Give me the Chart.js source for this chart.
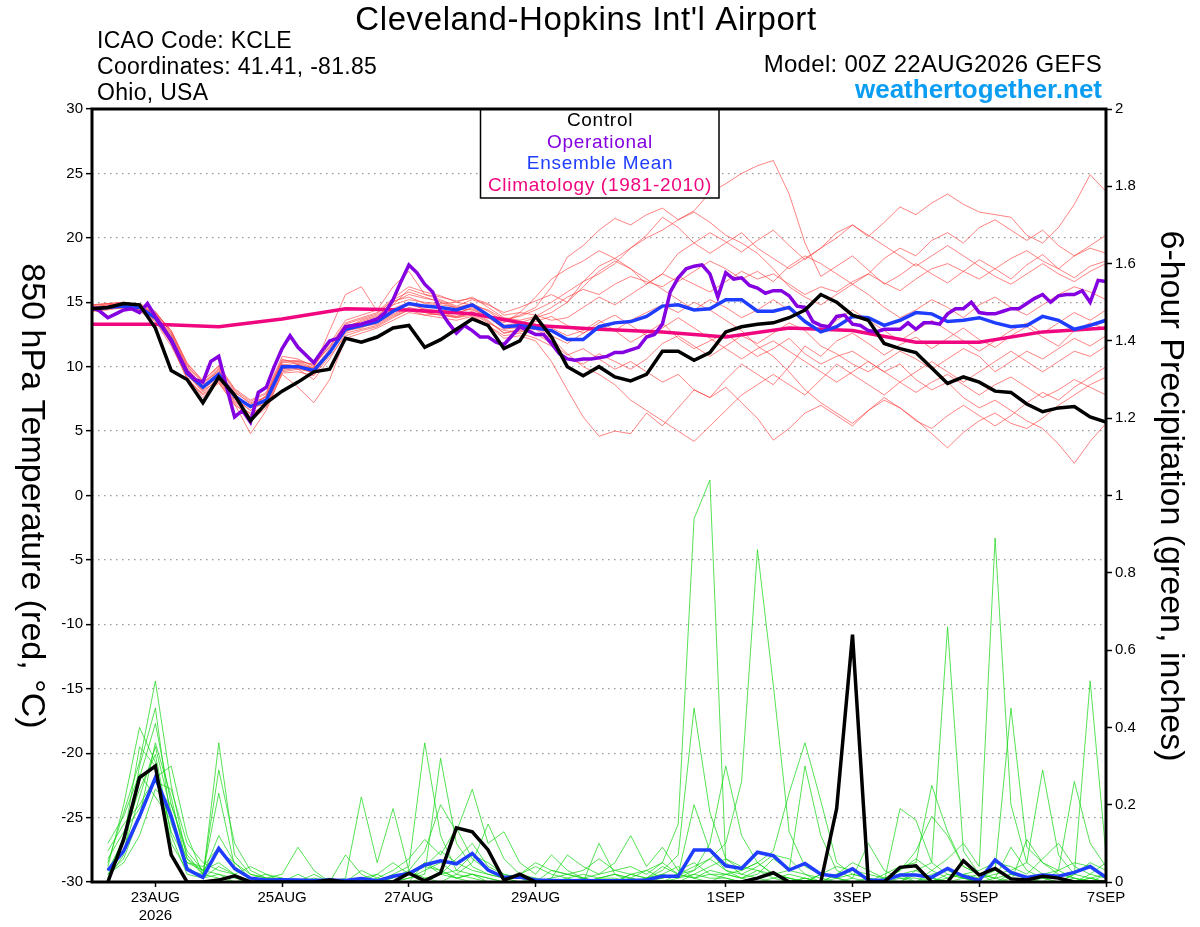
<!DOCTYPE html>
<html>
<head>
<meta charset="utf-8">
<title>Cleveland-Hopkins Int'l Airport - GEFS</title>
<script src="https://cdn.jsdelivr.net/npm/chart.js@4.4.1/dist/chart.umd.min.js"></script>
<style>
  html, body { margin: 0; padding: 0; background: #fff; }
  #wrap { width: 1200px; height: 927px; }
</style>
</head>
<body>
<div id="wrap"><canvas id="meteogram" width="1200" height="927"></canvas></div>
<script>
const FONT = "'Liberation Sans', Arial, Helvetica, sans-serif";

// x axis is forecast hour from 00Z 22AUG2026
const tickHours = [24, 72, 120, 168, 240, 288, 336, 384];
const tickLabels = [['23AUG', '2026'], '25AUG', '27AUG', '29AUG', '1SEP', '3SEP', '5SEP', '7SEP'];

// 850 hPa temperature, every 6 h from hour 0
const controlTemp = [14.5,14.6,14.9,14.8,13.0,9.7,9.0,7.2,9.2,7.8,
  5.8,7.2,8.1,8.8,9.6,9.8,12.2,11.9,12.3,13.0,
  13.2,11.5,12.1,12.9,13.7,13.2,11.4,12.0,13.9,12.3,
  10.0,9.3,10.0,9.2,8.9,9.4,11.2,11.2,10.5,11.1,
  12.7,13.1,13.3,13.4,13.8,14.4,15.6,15.0,14.0,13.6,
  11.8,11.4,11.1,9.9,8.7,9.2,8.8,8.1,8.0,7.1,
  6.5,6.8,6.9,6.1,5.7];
const meanTemp = [14.5,14.6,14.7,14.6,13.8,12.1,9.5,8.4,9.4,7.7,
  6.9,7.4,10.0,10.0,9.7,11.1,12.9,13.2,13.5,14.3,
  14.9,14.7,14.6,14.4,14.8,14.0,13.1,13.2,13.0,12.8,
  12.1,12.1,13.1,13.4,13.5,13.9,14.7,14.8,14.4,14.5,
  15.2,15.2,14.3,14.3,14.6,13.5,12.7,13.1,13.9,13.8,
  13.2,13.6,14.2,14.1,13.5,13.6,13.8,13.4,13.1,13.2,
  13.9,13.6,12.9,13.2,13.6];
// operational run, every 3 h from hour 0
const operTemp = [14.6,14.3,13.8,14.1,14.4,14.5,14.2,14.9,13.9,13.0,
  12.0,10.8,9.6,9.0,8.8,10.4,10.8,8.4,6.1,6.6,
  5.7,8.0,8.4,10.0,11.4,12.4,11.5,10.9,10.3,11.2,
  12.0,12.2,13.1,13.2,13.3,13.5,13.7,14.2,15.2,16.6,
  17.9,17.3,16.4,15.8,14.3,13.4,12.6,13.2,12.8,12.3,
  12.3,11.9,11.7,12.4,13.1,12.8,12.5,12.5,11.8,11.0,
  10.6,10.5,10.6,10.6,10.7,10.8,11.1,11.1,11.3,11.5,
  12.3,12.5,13.3,15.8,16.9,17.6,17.8,17.9,17.2,15.4,
  17.3,16.8,16.9,16.3,16.1,15.7,15.9,15.9,15.5,14.7,
  14.6,13.5,13.2,13.1,13.9,14.0,13.3,13.2,12.8,12.7,
  12.9,12.9,12.9,13.4,12.9,13.4,13.4,13.3,14.1,14.5,
  14.5,15.0,14.2,14.1,14.1,14.3,14.5,14.5,14.9,15.3,
  15.6,15.0,15.5,15.6,15.6,15.9,15.0,16.7,16.6];
// climatology (1981-2010), daily at 00Z
const climTemp = [13.3,13.3,13.1,13.7,14.5,14.4,14.1,13.2,12.9,12.7,12.3,13.0,12.8,11.9,11.9,12.7,13.0];

// ensemble members, temperature every 6 h from hour 0
const tempMember01 = [14.8,14.9,15.0,14.7,14.0,12.5,9.8,8.6,9.8,7.6,6.6,7.8,
  10.4,10.5,10.1,11.6,13.4,13.8,14.2,15.1,15.4,14.9,14.8,14.6,
  14.9,14.3,13.5,14.0,14.6,16.2,18.5,19.4,20.6,21.5,21.0,21.8,
  22.3,21.4,22.1,23.5,24.2,25.0,25.6,26.0,23.4,19.6,17.0,17.8,
  18.6,17.5,16.4,17.1,18.0,17.2,16.5,17.4,18.3,17.6,16.8,17.9,18.7,17.6,16.9,17.8,18.2];
const tempMember02 = [14.6,14.8,14.9,14.6,14.2,12.8,10.2,8.9,10.0,8.2,7.3,7.9,
  10.6,10.2,9.4,11.0,13.0,13.6,14.0,14.8,16.0,15.6,15.2,14.7,
  15.2,14.8,14.2,14.6,15.1,15.6,15.0,16.2,17.4,18.2,17.6,16.4,
  17.2,18.8,19.6,20.4,19.7,18.9,19.8,20.6,19.4,18.3,19.2,20.4,
  21.0,20.1,21.2,22.4,21.8,22.7,23.4,22.6,22.0,21.8,21.6,20.2,19.6,20.8,22.6,24.9,23.6];
const tempMember03 = [14.3,14.5,14.6,14.4,13.6,11.8,9.0,7.9,8.8,7.0,6.4,6.9,
  9.6,9.8,9.0,10.6,12.6,12.9,13.2,13.9,14.4,14.0,14.1,13.8,
  14.0,13.2,12.2,12.4,12.0,10.4,8.2,6.1,4.6,5.0,4.8,6.4,
  5.4,6.8,8.2,7.6,9.0,10.2,9.4,8.6,10.0,11.6,10.8,12.0,
  12.6,11.8,10.9,11.7,12.3,11.4,12.2,13.0,12.1,11.5,12.4,13.1,12.3,11.6,12.8,13.4,12.9];
const tempMember04 = [14.5,14.7,14.8,14.5,13.7,12.0,9.4,8.0,9.1,7.4,6.1,7.2,
  9.9,10.1,9.9,11.3,12.8,13.0,13.6,14.5,15.0,14.4,14.2,13.9,
  14.3,13.6,12.6,12.9,13.3,13.0,12.4,12.8,13.6,12.8,11.9,12.6,
  13.4,12.2,11.4,12.0,12.6,11.6,10.8,11.4,12.2,11.0,10.2,10.8,
  11.2,10.4,9.6,10.2,9.0,8.2,8.8,7.6,6.8,7.4,6.6,5.8,5.2,4.0,2.5,4.2,5.6];
const tempMember05 = [14.7,14.6,14.8,14.9,14.3,12.6,10.0,8.8,9.6,8.0,7.2,7.6,
  10.2,9.8,9.6,11.4,13.2,13.4,13.8,14.8,15.2,15.0,14.9,15.0,
  15.4,14.6,13.8,13.6,13.9,14.6,15.4,16.0,15.6,16.4,17.0,16.6,
  16.2,17.0,16.4,15.8,16.6,17.4,16.8,17.2,16.4,15.6,16.2,15.8,
  16.6,17.2,16.5,15.9,16.8,17.6,18.0,17.4,16.8,17.6,18.4,19.0,18.2,17.6,18.6,19.2,18.8];
const tempMember06 = [14.4,14.5,14.7,14.5,13.9,12.2,9.6,8.3,9.3,7.8,7.0,7.0,
  9.8,10.0,9.6,11.0,12.9,13.1,13.4,14.1,14.6,14.3,14.4,14.2,
  14.5,13.8,13.0,13.0,12.6,11.8,10.9,11.4,10.6,9.8,10.4,9.6,
  8.8,9.4,8.2,7.6,8.4,7.2,6.0,4.3,5.2,6.4,7.0,6.2,
  5.4,6.6,7.4,6.8,5.9,4.8,3.7,4.9,5.8,6.4,5.6,5.2,6.0,7.0,7.8,8.6,9.2];
const tempMember07 = [14.6,14.7,14.6,14.8,14.1,12.4,9.9,8.5,9.5,7.9,6.8,7.5,
  10.1,10.3,9.8,11.2,13.1,13.5,13.9,15.0,15.6,15.3,15.1,14.6,
  14.7,14.0,13.2,13.4,13.8,14.2,15.0,16.6,17.8,18.4,19.2,20.0,
  20.6,21.4,22.0,21.2,20.2,19.6,18.8,17.6,16.2,15.4,14.8,15.6,
  16.4,15.6,14.6,13.8,14.4,15.2,14.6,13.8,14.8,15.4,14.6,14.0,14.8,15.6,16.2,15.8,15.2];
const tempMember08 = [14.4,14.6,14.5,14.3,13.5,11.6,9.2,7.6,8.9,7.2,5.8,6.8,
  9.4,8.4,7.2,9.0,12.2,12.6,13.0,13.6,14.2,14.0,13.8,13.6,
  13.9,13.2,12.4,12.6,12.2,11.6,10.6,10.2,11.0,10.4,9.8,10.6,
  11.8,12.4,11.6,10.8,11.6,12.4,11.8,12.6,13.4,12.8,11.6,11.0,
  10.2,9.6,10.4,11.2,10.6,9.8,10.6,11.4,10.8,9.6,10.4,11.2,10.6,11.4,12.2,11.6,12.4];
const tempMember09 = [14.7,14.9,15.0,14.8,14.2,12.8,10.3,8.9,10.1,8.3,7.4,8.0,
  10.8,10.6,10.0,11.8,13.6,14.0,14.4,16.2,17.4,15.6,15.4,15.1,
  15.3,14.9,14.0,14.2,14.0,13.6,13.8,14.6,15.4,14.8,15.6,16.4,
  17.2,16.6,17.4,18.2,17.6,16.8,17.4,16.6,17.8,18.6,18.0,17.2,
  16.4,17.2,18.4,19.2,18.6,19.8,20.4,19.6,20.8,21.4,20.6,19.8,20.6,19.4,18.6,19.4,20.2];
const tempMember10 = [14.5,14.6,14.7,14.6,13.9,12.0,9.3,8.2,9.2,7.5,6.6,7.3,
  9.7,9.9,9.5,11.1,12.7,13.2,13.5,14.3,14.8,14.5,14.3,14.1,
  14.6,13.9,12.9,13.1,13.5,13.9,13.2,12.6,13.4,14.0,13.2,12.4,
  13.0,13.8,13.0,12.2,11.4,10.6,11.4,12.0,11.2,10.4,9.6,8.8,
  9.6,10.4,9.6,8.8,8.0,8.8,9.4,8.6,7.8,8.6,9.2,8.4,7.6,8.2,9.0,8.4,7.8];
const tempMember11 = [14.6,14.8,14.9,14.7,14.0,12.3,9.7,8.4,9.7,7.7,6.9,7.7,
  10.3,10.4,10.2,11.5,13.3,13.7,14.1,15.2,15.8,15.4,15.0,14.5,
  14.4,13.9,13.4,14.2,15.4,16.8,17.6,18.2,19.0,18.4,17.6,16.8,
  16.0,15.2,14.4,15.2,14.6,13.8,14.4,15.2,14.4,13.6,12.8,13.6,
  14.4,13.6,12.8,12.0,12.8,13.6,12.8,12.0,11.2,12.0,12.8,13.4,12.6,13.4,14.2,13.6,14.4];
const tempMember12 = [14.3,14.4,14.6,14.5,13.8,12.2,9.5,8.1,9.0,7.3,6.3,7.1,
  9.8,10.2,9.7,11.0,12.8,13.1,13.3,14.0,14.5,14.2,14.0,13.8,
  14.2,13.5,12.6,12.8,13.0,12.4,11.8,12.6,13.2,12.8,13.6,14.2,
  14.8,14.2,15.0,14.4,13.6,12.8,11.6,10.8,9.6,8.2,7.2,6.4,
  5.6,6.6,7.6,6.8,5.8,5.2,6.2,7.0,6.2,5.4,6.2,7.2,8.0,7.4,8.4,9.2,10.0];
const tempMember13 = [14.8,14.9,14.8,14.6,14.1,12.7,10.1,8.7,9.9,8.1,7.1,7.7,
  10.5,10.4,9.9,12.8,15.6,16.2,14.3,15.3,16.2,15.8,15.5,15.0,
  14.8,14.4,13.7,13.9,14.4,15.0,15.8,16.6,17.2,18.0,19.2,20.2,
  21.6,20.8,19.6,18.8,19.6,20.4,19.2,18.4,17.6,18.4,19.2,20.0,
  21.0,20.2,19.4,18.6,17.8,18.6,19.4,18.6,17.8,17.0,16.4,17.2,18.0,17.2,16.6,17.4,18.0];
const tempMember14 = [14.5,14.7,14.6,14.4,13.6,11.9,9.1,7.8,8.7,7.1,4.8,6.6,
  9.5,9.6,9.3,10.8,12.4,12.8,13.1,13.8,14.4,14.2,14.0,13.9,
  14.1,13.4,12.8,12.7,12.9,12.2,11.0,10.0,9.4,8.6,7.4,6.6,
  5.8,5.0,4.2,5.4,6.6,7.8,8.6,9.4,8.6,7.8,9.0,10.2,
  9.4,8.6,7.8,8.8,9.6,10.4,9.6,8.8,9.6,10.4,11.2,10.4,9.6,10.4,11.2,10.8,11.6];

// 6-hour precipitation (inches), every 6 h from hour 6
const controlPrecip = [0,0.11,0.27,0.30,0.07,0,0,0.005,
  0.016,0,0,0,0,0,0.005,0,
  0,0,0,0.023,0.003,0.023,0.14,0.13,
  0.083,0.005,0.02,0,0,0,0,0,
  0,0,0,0,0,0,0,0,
  0,0.01,0.024,0,0,0,0.19,0.64,
  0,0,0.038,0.042,0,0,0.055,0.018,
  0.035,0.008,0.005,0.015,0.01,0,0,0];
const meanPrecip = [0.03,0.08,0.17,0.27,0.17,0.033,0.012,0.087,
  0.035,0.01,0.005,0.006,0.005,0.004,0.005,0.004,
  0.009,0.003,0.015,0.022,0.044,0.055,0.047,0.074,
  0.031,0.012,0.013,0.005,0.004,0.003,0.004,0.003,
  0.003,0.004,0.005,0.015,0.015,0.083,0.083,0.042,
  0.035,0.077,0.068,0.031,0.048,0.02,0.015,0.034,
  0.005,0.004,0.018,0.018,0.012,0.035,0.015,0.004,
  0.057,0.025,0.012,0.018,0.015,0.025,0.04,0.012];
const precipMember01 = [0.02,0.08,0.22,0.35,0.18,0.03,0.01,0.04, 0.02,0,0,0,0,0.01,0,0,
  0,0,0,0.02,0.05,0.03,0.01,0.02, 0.01,0,0,0,0,0,0.01,0.02,
  0.03,0.04,0.02,0.05,0.15,0.94,1.04,0.05, 0.02,0.01,0,0,0.01,0,0,0,
  0,0.01,0.02,0,0.01,0,0,0, 0,0,0,0.01,0,0,0.02,0.01];
const precipMember02 = [0.05,0.18,0.31,0.52,0.25,0.06,0.02,0.12, 0.05,0.01,0,0,0.02,0,0,0,
  0.03,0.01,0,0,0,0.02,0.06,0.1, 0.04,0.02,0.01,0,0,0,0,0,
  0,0.02,0.01,0.03,0.07,0.45,0.18,0.06, 0.03,0.05,0.02,0.01,0,0.02,0.01,0,
  0.01,0,0,0.03,0.05,0.66,0.08,0.02, 0.01,0,0,0,0.03,0.05,0.04,0.01];
const precipMember03 = [0.01,0.12,0.24,0.33,0.12,0.02,0.01,0.36, 0.07,0.02,0.01,0,0,0,0.01,0,
  0,0,0.02,0.04,0.36,0.12,0.03,0.02, 0,0,0,0.01,0,0,0,0.1,
  0.02,0,0,0.01,0.02,0.2,0.08,0.03, 0.01,0.02,0.06,0.03,0.02,0,0,0.01,
  0.1,0.03,0.01,0.01,0,0.02,0.01,0, 0.01,0.02,0.01,0,0,0.02,0.01,0];
const precipMember04 = [0.03,0.1,0.27,0.41,0.2,0.08,0.03,0.05, 0.02,0,0.01,0.02,0.09,0.03,0,0,
  0,0,0,0.01,0.02,0.32,0.1,0.04, 0.02,0.01,0,0,0.03,0.02,0.01,0,
  0,0,0.01,0.02,0.01,0.03,0.06,0.1, 0.26,0.86,0.51,0.13,0.04,0.02,0.01,0,
  0,0,0.02,0.03,0.01,0,0,0.01, 0.03,0.01,0,0,0,0.01,0,0];
const precipMember05 = [0.08,0.15,0.2,0.27,0.3,0.12,0.02,0.29, 0.1,0.03,0.01,0,0,0,0,0.01,
  0.22,0.05,0.19,0.03,0.01,0,0.02,0.05, 0.15,0.06,0.02,0.01,0,0,0,0.01,
  0.02,0.01,0,0,0.02,0.03,0.1,0.3, 0.12,0.05,0.02,0.01,0,0,0.02,0.03,
  0.01,0,0.19,0.16,0.05,0.02,0.01,0, 0,0.02,0.01,0.02,0.03,0.01,0,0.02];
const precipMember06 = [0.02,0.06,0.17,0.36,0.22,0.04,0.01,0.02, 0,0,0,0,0,0,0,0.07,
  0.02,0,0.01,0.03,0.08,0.2,0.13,0.24, 0.1,0.13,0.05,0.02,0.07,0.03,0.01,0,
  0,0,0.01,0.02,0.04,0.01,0.02,0.02, 0.03,0.05,0.08,0.23,0.36,0.21,0.05,0.02,
  0.01,0,0,0.02,0.01,0,0.01,0.02, 0,0,0.11,0.05,0.02,0.01,0,0];
const precipMember07 = [0.04,0.2,0.4,0.31,0.1,0.03,0.02,0.23, 0.04,0.01,0,0,0,0,0,0,
  0,0.02,0.05,0.02,0.04,0.08,0.05,0.03, 0.02,0.01,0,0,0.01,0.07,0.04,0.02,
  0.05,0.12,0.04,0.09,0.03,0.05,0.02,0.01, 0,0.01,0.02,0.03,0.3,0.12,0.03,0.01,
  0,0.02,0.04,0.05,0.25,0.13,0.04,0.02, 0.01,0.09,0.03,0.01,0,0.02,0.05,0.03];
const precipMember08 = [0.01,0.07,0.3,0.45,0.15,0.05,0.04,0.09, 0.03,0.01,0.02,0.01,0,0,0,0,
  0,0.01,0.03,0.06,0.11,0.07,0.14,0.06, 0.03,0.01,0.02,0.04,0.02,0.01,0,0,
  0,0.01,0,0,0,0.02,0.04,0.06, 0.04,0.03,0.01,0,0.01,0,0.02,0.05,
  0.03,0.01,0,0,0.03,0.06,0.1,0.04, 0.89,0.2,0.05,0.02,0.01,0,0.01,0];
const precipMember09 = [0.06,0.13,0.19,0.26,0.24,0.1,0.05,0.03, 0.02,0.04,0.02,0,0,0,0,0,
  0,0,0,0.01,0.03,0.05,0.02,0.01, 0,0,0.02,0.05,0.03,0.02,0.03,0.06,
  0.03,0.02,0.01,0.04,0.02,0.01,0.03,0.02, 0.01,0,0,0,0,0.02,0.04,0.03,
  0.02,0.01,0.03,0.08,0.17,0.12,0.04,0.02, 0.03,0.45,0.09,0.05,0.03,0.26,0.1,0.04];
const precipMember10 = [0.03,0.11,0.35,0.3,0.13,0.05,0.03,0.02, 0.01,0,0,0,0,0.02,0,0,
  0,0,0,0.02,0.04,0.03,0.01,0, 0,0,0,0,0,0,0,0.01,
  0.02,0.01,0.03,0.05,0.02,0.01,0,0.02, 0.01,0.03,0.02,0.01,0,0,0.01,0.02,
  0.01,0,0,0,0,0.01,0.02,0.01, 0.02,0.03,0.05,0.29,0.07,0.02,0.52,0.07];
const precipMember11 = [0.1,0.17,0.28,0.22,0.16,0.06,0.03,0.08, 0.05,0.02,0.01,0.01,0,0,0,0,
  0.01,0.02,0,0,0.05,0.02,0.03,0.07, 0.05,0.02,0.01,0,0.01,0.02,0.01,0,
  0,0.02,0.03,0.01,0.02,0.04,0.06,0.03, 0.02,0.04,0.07,0.06,0.02,0.01,0,0,
  0,0,0.03,0.06,0.03,0.01,0.02,0.03, 0.05,0.04,0.02,0.06,0.1,0.04,0.02,0.05];
const precipMember12 = [0.02,0.05,0.12,0.24,0.2,0.07,0.02,0.01, 0,0.01,0,0,0,0,0,0,
  0,0,0,0,0.01,0.02,0.01,0.02, 0.01,0,0,0,0,0.01,0.02,0.01,
  0.01,0,0,0,0.01,0.02,0.01,0.01, 0,0,0.01,0.02,0.01,0,0,0,
  0,0,0.01,0,0.02,0.03,0.01,0, 0,0.01,0,0.02,0.01,0,0.01,0.02];

const tempMembers = [tempMember01, tempMember02, tempMember03, tempMember04, tempMember05,
  tempMember06, tempMember07, tempMember08, tempMember09, tempMember10,
  tempMember11, tempMember12, tempMember13, tempMember14];
const precipMembers = [precipMember01, precipMember02, precipMember03, precipMember04,
  precipMember05, precipMember06, precipMember07, precipMember08,
  precipMember09, precipMember10, precipMember11, precipMember12];

// turn a value list into {x: hour, y: value}
function every(vals, step, start) {
  return vals.map((v, i) => ({ x: start + i * step, y: v }));
}

function line(data, color, width, axis) {
  return { data: data, borderColor: color, borderWidth: width, yAxisID: axis,
    pointRadius: 0, tension: 0, fill: false };
}

// first dataset is drawn on top
const datasets = [
  line(every(controlTemp, 6, 0), '#000000', 3.5, 'y'),
  line(every(operTemp, 3, 0), '#8400e0', 3.5, 'y'),
  line(every(meanTemp, 6, 0), '#1f3dff', 3.5, 'y'),
  line(every(climTemp, 24, 0), '#f0067f', 3.5, 'y'),
  line(every(controlPrecip, 6, 6), '#000000', 3.5, 'y2'),
  line(every(meanPrecip, 6, 6), '#1f3dff', 3.5, 'y2')
];
tempMembers.forEach(m => datasets.push(line(every(m, 6, 0), 'rgba(255,60,60,0.8)', 0.8, 'y')));
precipMembers.forEach(m => datasets.push(line(every(m, 6, 6), 'rgba(20,215,20,0.9)', 0.8, 'y2')));

const legendItems = ['Control', 'Operational', 'Ensemble Mean', 'Climatology (1981-2010)'];
const legendColors = ['#000000', '#8400e0', '#1f3dff', '#f0067f'];

const decor = {
  id: 'decor',
  afterDatasetsDraw(chart) {
    const { ctx, chartArea: a } = chart;
    ctx.save();
    // legend box
    ctx.fillStyle = '#fff';
    ctx.fillRect(480, a.top, 239, 198 - a.top);
    ctx.lineWidth = 1.5;
    ctx.strokeStyle = '#000';
    ctx.strokeRect(480.5, a.top, 238.5, 198 - a.top);
    ctx.font = '19px ' + FONT;
    ctx.letterSpacing = '0.7px';
    ctx.textAlign = 'center';
    ctx.textBaseline = 'middle';
    legendItems.forEach((t, i) => {
      ctx.fillStyle = legendColors[i];
      ctx.fillText(t, 600, 121 + i * 21.5);
    });
    ctx.letterSpacing = '0px';
    // plot frame
    ctx.lineWidth = 3;
    ctx.strokeRect(a.left, a.top, a.right - a.left, a.bottom - a.top);
    ctx.restore();
  },
  afterDraw(chart) {
    const ctx = chart.ctx;
    ctx.save();
    ctx.fillStyle = '#000';
    ctx.textBaseline = 'alphabetic';
    ctx.textAlign = 'center';
    ctx.font = '33px ' + FONT;
    ctx.letterSpacing = '0.6px';
    ctx.fillText("Cleveland-Hopkins Int'l Airport", 586, 30);
    ctx.letterSpacing = '0.3px';
    ctx.textAlign = 'left';
    ctx.font = '23px ' + FONT;
    ctx.fillText('ICAO Code: KCLE', 97, 48);
    ctx.fillText('Coordinates: 41.41, -81.85', 97, 74);
    ctx.fillText('Ohio, USA', 97, 100);
    ctx.textAlign = 'right';
    ctx.font = '24px ' + FONT;
    ctx.fillText('Model: 00Z 22AUG2026 GEFS', 1102, 72);
    ctx.letterSpacing = '0px';
    ctx.fillStyle = '#0a9df2';
    ctx.font = 'bold 26px ' + FONT;
    ctx.fillText('weathertogether.net', 1102, 98);

    // axis titles, both read top to bottom
    ctx.fillStyle = '#000';
    ctx.font = '34px ' + FONT;
    ctx.textAlign = 'center';
    ctx.textBaseline = 'middle';
    ctx.save();
    ctx.translate(31, 496);
    ctx.rotate(Math.PI / 2);
    ctx.fillText('850 hPa Temperature (red, \u00B0C)', 0, 0);
    ctx.restore();
    ctx.save();
    ctx.translate(1170, 496);
    ctx.rotate(Math.PI / 2);
    ctx.fillText('6-hour Precipitation (green, inches)', 0, 0);
    ctx.restore();
    ctx.restore();
  }
};

Chart.defaults.font.family = FONT;

const meteogram = new Chart(document.getElementById('meteogram'), {
  type: 'line',
  data: { datasets: datasets },
  options: {
    responsive: false,
    animation: false,
    devicePixelRatio: 1,
    layout: { padding: { top: 109, left: 0, right: 0, bottom: 0 } },
    plugins: { legend: { display: false }, tooltip: { enabled: false } },
    scales: {
      x: {
        type: 'linear', min: 0, max: 384,
        afterBuildTicks: s => { s.ticks = tickHours.map(v => ({ value: v })); },
        afterFit: s => { s.height = 45; },
        ticks: { autoSkip: false, maxRotation: 0, padding: 2, color: '#000', font: { size: 15 },
          callback: v => tickLabels[tickHours.indexOf(v)] },
        grid: { drawOnChartArea: false, tickLength: 5, tickColor: '#000', tickWidth: 1.5 },
        border: { display: false }
      },
      y: {
        position: 'left', min: -30, max: 30,
        afterFit: s => { s.width = 92; },
        ticks: { stepSize: 5, padding: 3, color: '#000', font: { size: 15 } },
        grid: { color: '#9a9a9a', lineWidth: 1.3, tickLength: 6, tickColor: '#000', tickWidth: 1.5 },
        border: { display: false, dash: [1.5, 4.5] }
      },
      y2: {
        position: 'right', min: 0, max: 2,
        afterFit: s => { s.width = 94; },
        ticks: { stepSize: 0.2, padding: 3, color: '#000', font: { size: 15 },
          callback: v => String(Math.round(v * 10) / 10) },
        grid: { drawOnChartArea: false, tickLength: 6, tickColor: '#000', tickWidth: 1.5 },
        border: { display: false }
      }
    }
  },
  plugins: [decor]
});
</script>
</body>
</html>
